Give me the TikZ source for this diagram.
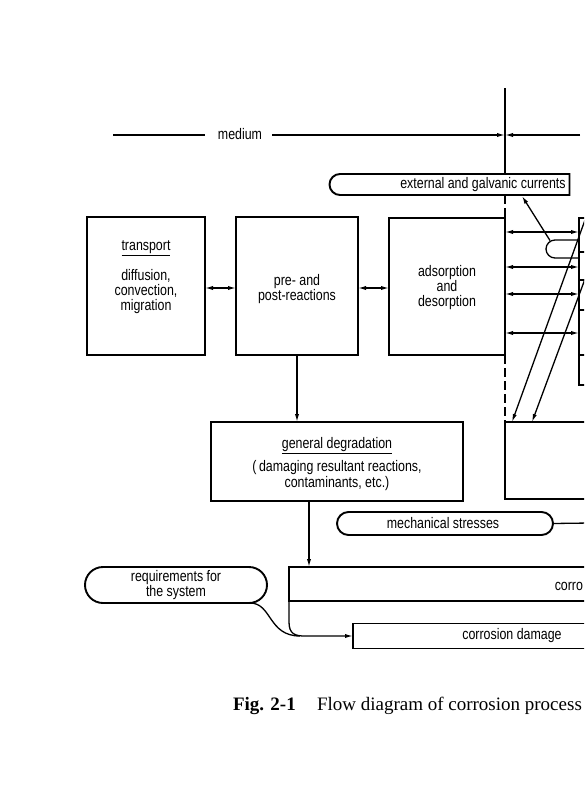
\documentclass[tikz,border=0pt]{standalone}
\usepackage{fontspec}
\setmainfont{Liberation Sans}[FakeStretch=0.81]
\newfontfamily\capfont{Liberation Serif}
\usetikzlibrary{arrows.meta,shapes.misc}
\begin{document}
\begin{tikzpicture}[x=1pt,y=-1pt,
  every node/.style={font=\fontsize{15.3}{15}\selectfont, inner sep=0pt, outer sep=0pt},
  box/.style={draw, line width=1.9pt, rectangle},
  pill/.style={draw, line width=1.9pt, rounded rectangle},
  conn/.style={line width=1.3pt},
  tip/.style={-{Latex[length=8pt,width=4.2pt]}},
  dbl/.style={{Latex[length=8pt,width=4.2pt]}-{Latex[length=8pt,width=4.2pt]}},
  dsh/.style={line width=1.3pt, dash pattern=on 9pt off 4pt},
  captxt/.style={font=\capfont\fontsize{19}{19}\selectfont, anchor=base west}
]
\useasboundingbox (0,0) rectangle (584,800);
\fill[white] (0,0) rectangle (584,800);
\clip (0,0) rectangle (584,800);

% boxes
\node[box, minimum width=118pt, minimum height=138pt] (transport) at (146,286) {};
\node[box, minimum width=122pt, minimum height=138pt] (pre) at (297,286) {};
\node[box, minimum width=116pt, minimum height=137pt] (ads) at (447,286.5) {};
\node[box, anchor=north west, minimum width=80pt, minimum height=167pt] (blk) at (579,218) {};
\node[box, minimum width=252pt, minimum height=79pt] (gen) at (337,461.5) {};
\node[box, anchor=north west, minimum width=120pt, minimum height=77pt] (rbox) at (505,422) {};
\node[box, anchor=north west, minimum width=340pt, minimum height=34pt] (corr) at (289,567) {};
\node[box, anchor=north west, minimum width=260pt, minimum height=25pt] (dmg) at (353,623.5) {};
\node[pill, rounded rectangle east arc=none, anchor=north west, minimum width=240pt, minimum height=21pt] (ext) at (340,174) {};
\node[pill, minimum width=216pt, minimum height=23pt] (mech) at (445,523.5) {};
\node[pill, minimum width=182pt, minimum height=36pt] (req) at (176,585) {};

% sub-box lines of the cut block
\foreach \yy/\nm in {252/a,280/b,310/c,355/d}{
  \coordinate (s\nm) at (595,\yy);
  \draw[line width=1.5pt] (blk.west |- s\nm) -- (s\nm);
}

% texts
\node (tmed) at (240,134) {medium};
\node[align=center] (ttr) at (146,277) {\underline{transport}\\[13pt]diffusion,\\convection,\\migration};
\node[align=center] (tpre) at (297,289.5) {pre- and\\post-reactions};
\node[align=center] (tads) at (447,288) {adsorption\\and\\desorption};
\node (text) at (483,184.5) {external and galvanic currents};
\node[align=center, font=\fontsize{15.3}{14}\selectfont] (tgen) at (337,464) {\underline{general degradation}\\[6pt](\,damaging resultant reactions,\\contaminants, etc.)};
\node (tmech) at (443,523.5) {mechanical stresses};
\node[align=center, font=\fontsize{15.3}{14}\selectfont] (treq) at (176,585) {requirements for\\the system};
\node[anchor=east] (tcorr) at (583,586) {corro};
\node (tdmg) at (512,636) {corrosion damage};
\node[captxt] (cap1) at (233,710) {\textbf{Fig. 2-1}};
\node[captxt] (cap2) at (317,710) {Flow diagram of corrosion process};

% medium line
\coordinate (m1) at (113,135);
\coordinate (m2) at (205,135);
\coordinate (m3) at (272,135);
\coordinate (mx) at (505,135);
\coordinate (m4) at (580,135);
\coordinate (vtop) at (505,88);
\draw[conn] (m1) -- (m2);
\draw[conn,tip] (m3) -- (mx);
\draw[conn,tip] (m4) -- (mx);
\draw[conn] (vtop) -- (vtop |- ext.north);
\draw[dsh] (vtop |- ext.south) -- (ads.north east);
\draw[dsh] (ads.south east) -- (rbox.north west);

% horizontal double arrows
\draw[conn,dbl] ([yshift=-2pt]transport.east) -- ([yshift=-2pt]pre.west);
\draw[conn,dbl] ([yshift=-2pt]pre.east) -- ([yshift=-1.5pt]ads.west);
\foreach \yy in {232,267,294,333}{
  \draw[conn,dbl] (ads.east |- 0,\yy) -- (blk.west |- 0,\yy);
}

% loop and arrow to external currents
\coordinate (lp) at (550,240.5);
\coordinate (ea) at (522,196);
\draw[conn] (blk.west |- 0,240) -- (555,240) arc[start angle=270, end angle=90, radius=9] -- (blk.west |- 0,258);
\draw[conn,tip] (lp) -- (ea);

% diagonals
\coordinate (d1s) at (585,220);
\coordinate (d1e) at (512,422);
\coordinate (d2s) at (585,279);
\coordinate (d2e) at (532,422);
\draw[conn,tip] (d1s) -- (d1e);
\draw[conn,tip] (d2s) -- (d2e);

% mechanical stresses line
\coordinate (me) at (590,523);
\draw[conn] (mech.east) -- (me);

% vertical arrows
\draw[conn,tip] (pre.south) -- (pre.south |- gen.north);
\coordinate (gx) at (309,0);
\draw[conn,tip] (gen.south -| gx) -- (corr.north -| gx);

% corrosion box left edge into damage arrow
\draw[conn,tip] (corr.south west) -- ++(0,21) .. controls +(0,12) and +(-10,0) .. (305,636) -- (dmg.west);

% requirements curve
\coordinate (rq) at (250,603);
\draw[conn] (rq) .. controls (272,603) and (268,636) .. (300,636);
\end{tikzpicture}
\end{document}
